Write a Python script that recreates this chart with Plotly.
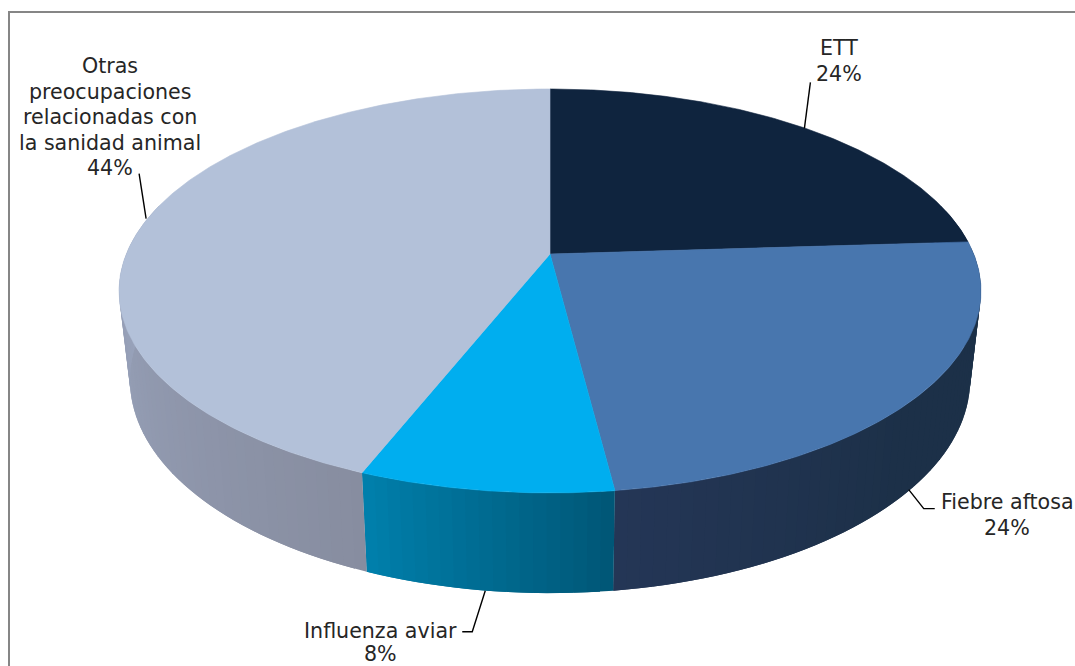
import math
import plotly.graph_objects as go

# ---- data ----
categories = ["ETT", "Fiebre aftosa", "Influenza aviar", "Otras preocupaciones relacionadas con la sanidad animal"]
values = [24, 24, 8, 44]
label_lines = [["ETT", "24%"], ["Fiebre aftosa", "24%"], ["Influenza aviar", "8%"],
               ["Otras", "preocupaciones", "relacionadas con", "la sanidad animal", "44%"]]

# ---- styles ----
top_colors = ["#0F243E", "#4876AE", "#00AEEF", "#B3C1D9"]
side_start = [(28, 48, 72), (28, 48, 72), (0, 86, 118), (135, 141, 160)]   # clockwise start of the slice
side_end = [(28, 48, 72), (36, 54, 86), (0, 128, 172), (160, 172, 198)]     # clockwise end of the slice
side_ramp = [(0, 1), (0.55, 1), (0, 1), (0, 0.62)]
label_pos = [(839, 48), (1007, 502), (380, 630.5), (110, 66)]
label_step = [26, 26, 23.5, 25.6]
# leader bends, in picture units relative to the slice anchor
leader_bends = [[(6, -46)], [(15, 19), (26, 19)], [(-13, 41), (-23, 41)], [(-7, -45)]]
leader_on_bottom = [False, True, True, False]
LEADER_DX = -1.5
FONT = "DejaVu Sans"
TEXT = "#262626"

# ---- projection of the disc (perspective, seen from the front) ----
CX, K = 550, 0.183
TOP_RIM = dict(y0=254, a=423.7, b=195.2)
BOTTOM_RIM = dict(y0=341, a=413, b=206)


def project(angle_deg, bottom=False):
    u, v = math.sin(math.radians(angle_deg)), math.cos(math.radians(angle_deg))
    d = 1 + K * v
    rim = BOTTOM_RIM if bottom else TOP_RIM
    return CX + rim["a"] * u / d, rim["y0"] - rim["b"] * v / d


def arc(a0, a1, step=1.0):
    n = max(2, int(abs(a1 - a0) / step) + 1)
    return [a0 + (a1 - a0) * i / (n - 1) for i in range(n)]


total = sum(values)
edges = [0]
for val in values:
    edges.append(edges[-1] + val / total * 360)

fig = go.Figure()

# side wall: overlapping strips (each covers half of the one before it), shaded along each slice
for i, name in enumerate(categories):
    a0, a1 = edges[i], edges[i + 1]
    lo, hi = max(a0, 75), min(a1, 285)
    if lo >= hi:
        continue
    angs = arc(lo, hi, 1.5)
    for j in range(len(angs) - 1):
        t = ((angs[j] + angs[j + 1]) / 2 - a0) / (a1 - a0)
        r0, r1 = side_ramp[i]
        t = min(1, max(0, (t - r0) / (r1 - r0)))
        col = tuple(round(side_start[i][c] + (side_end[i][c] - side_start[i][c]) * t) for c in range(3))
        col = "rgb(%d,%d,%d)" % col
        end = angs[min(j + 2, len(angs) - 1)]
        outer = arc(angs[j], end, 0.5)
        p = [project(a) for a in outer] + [project(a, True) for a in reversed(outer)]
        fig.add_trace(go.Scatter(x=[q[0] for q in p] + [p[0][0]], y=[q[1] for q in p] + [p[0][1]],
                                 mode="lines", fill="toself", fillcolor=col,
                                 line=dict(width=0), hoverinfo="skip", showlegend=False))

# top face
for i, name in enumerate(categories):
    pts = [project(a) for a in arc(edges[i], edges[i + 1], 0.5)]
    xs = [CX] + [q[0] for q in pts] + [CX]
    ys = [TOP_RIM["y0"]] + [q[1] for q in pts] + [TOP_RIM["y0"]]
    fig.add_trace(go.Scatter(x=xs, y=ys, mode="lines", fill="toself", fillcolor=top_colors[i],
                             line=dict(color=top_colors[i], width=0.6), name=name,
                             hoverinfo="name", showlegend=False))

# leader lines, starting on the rim at each slice's middle angle
for i in range(len(values)):
    mid = (edges[i] + edges[i + 1]) / 2
    sx, sy = project(mid, leader_on_bottom[i])
    sx += LEADER_DX
    xs = [sx] + [sx + b[0] for b in leader_bends[i]]
    ys = [sy] + [sy + b[1] for b in leader_bends[i]]
    fig.add_trace(go.Scatter(x=xs, y=ys, mode="lines", line=dict(color="#000000", width=1.4),
                             hoverinfo="skip", showlegend=False))

# labels, one annotation per line for the wide line spacing
for lines, (lx, ly), step in zip(label_lines, label_pos, label_step):
    for n, txt in enumerate(lines):
        fig.add_annotation(x=lx, y=ly + n * step, text=txt, showarrow=False,
                           xanchor="center", yanchor="middle",
                           font=dict(family=FONT, size=20.6, color=TEXT))

# chart frame, running past the bottom and right of the page
fig.add_shape(type="rect", x0=9, y0=12, x1=1090, y1=690, line=dict(color="#868686", width=2), layer="below")

fig.update_layout(
    width=1075, height=666, margin=dict(l=0, r=0, t=0, b=0),
    paper_bgcolor="white", plot_bgcolor="white", showlegend=False,
    xaxis=dict(range=[0, 1075], visible=False, fixedrange=True),
    yaxis=dict(range=[666, 0], visible=False, fixedrange=True),
)
fig.write_html("out.html", config=dict(displayModeBar=False),
               post_script="document.body.style.margin='0';document.body.style.overflow='hidden';")
